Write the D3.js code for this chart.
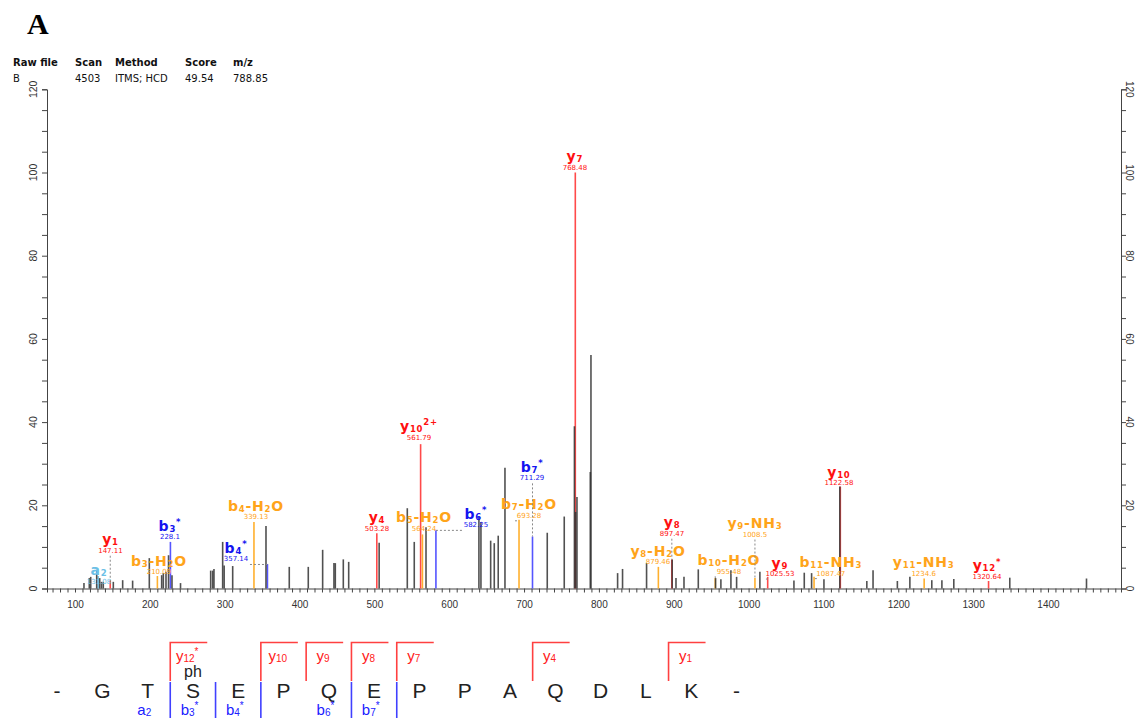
<!DOCTYPE html>
<html>
<head>
<meta charset="utf-8">
<script src="https://cdn.jsdelivr.net/npm/d3@7"></script>
<style>
  body { margin: 0; background: #fff; }
  svg { display: block; }
  .axis text { font-family: 'Liberation Sans', Arial, sans-serif; font-size: 10px; fill: #333; }
  .axis path, .axis line { stroke: #444; }
</style>
</head>
<body>
<div id="chart"></div>
<script>
// header table
var headerCols = ['Raw file', 'Scan', 'Method', 'Score', 'm/z']
var headerVals = ['B', '4503', 'ITMS; HCD', '49.54', '788.85']

// unassigned peaks (m/z, relative intensity %)
var peakMz = [112.0, 119.1, 121.0, 129.0, 133.0, 135.4, 137.8, 151.2, 163.7, 177.0,
  199.3, 215.8, 218.0, 221.6, 225.0, 229.6, 241.0, 281.3, 284.0, 285.7,
  297.3, 299.3, 310.7, 355.2, 386.3, 411.7, 430.9, 446.0, 447.8, 458.5,
  465.7, 506.4, 544.0, 553.3, 569.0, 639.7, 642.4, 655.4, 660.2, 665.5,
  674.5, 731.0, 753.7, 767.3, 768.9, 770.7, 788.5, 789.4, 825.0, 831.6,
  863.7, 897.9, 903.0, 913.7, 932.8, 955.9, 963.0, 976.4, 984.0, 1015.1,
  1060.6, 1074.4, 1084.2, 1100.7, 1121.9, 1158.0, 1166.3, 1198.8, 1215.5, 1244.8,
  1258.3, 1274.2, 1349.0, 1451.5]
var peakInt = [1.3, 2.5, 2.8, 4.4, 2.5, 1.6, 1.6, 1.6, 2.0, 1.9,
  7.3, 3.2, 3.7, 4.0, 8.0, 3.2, 1.3, 4.3, 4.3, 4.7,
  11.2, 5.5, 5.4, 15.0, 5.2, 5.2, 9.3, 6.1, 6.1, 7.0,
  6.4, 11.0, 19.3, 11.2, 14.7, 17.3, 16.0, 11.5, 10.9, 12.7,
  29.0, 13.4, 17.3, 39.0, 18.4, 22.0, 28.0, 56.1, 3.7, 4.7,
  6.1, 7.0, 2.5, 2.8, 4.6, 2.5, 2.2, 4.4, 2.8, 4.0,
  1.9, 3.8, 3.7, 2.2, 24.5, 1.8, 4.4, 1.8, 2.8, 2.0,
  2.0, 2.3, 2.6, 2.4]

// assigned fragment ions
var ionNames = ['a2', 'y1', 'b3-H2O', 'b3*', 'b4-H2O', 'b4*', 'y4', 'y10^2+', 'b5-H2O', 'b6*', 'b7-H2O',
  'b7*', 'y7', 'y8-H2O', 'y8', 'b10-H2O', 'y9-NH3', 'y9', 'b11-NH3', 'y10', 'y11-NH3', 'y12*']
var ionKind = ['a', 'y', 'loss', 'b', 'loss', 'b', 'y', 'y', 'loss', 'b', 'loss',
  'b', 'y', 'loss', 'y', 'loss', 'loss', 'y', 'loss', 'y', 'loss', 'y']
var ionMz = [131.08, 147.11, 210.09, 227.5, 339.13, 357.14, 503.28, 561.79, 564.24, 582.25, 693.28,
  711.29, 768.48, 879.46, 897.47, 955.48, 1008.5, 1025.53, 1087.47, 1122.58, 1234.6, 1320.64]
var ionValue = ['131.08', '147.11', '210.09', '228.1', '339.13', '357.14', '503.28', '561.79', '564.24', '582.25', '693.28',
  '711.29', '768.48', '879.46', '897.47', '955.48', '1008.5', '1025.53', '1087.47', '1122.58', '1234.6', '1320.64']
var ionInt = [3.0, 2.0, 3.0, 11.2, 16.0, 5.9, 13.3, 34.7, 13.0, 14.0, 16.5,
  12.5, 100, 5.2, 7.0, 2.5, 2.5, 2.8, 2.8, 24.5, 2.4, 1.8]
// where the software put each label (m/z, intensity)
var labelMz = [132.1, 147.4, 212.2, 226.9, 341.8, 315.1, 503.5, 559.6, 566.3, 635.7, 706.6,
  710.7, 768.0, 879.0, 897.7, 973.7, 1008.5, 1041.9, 1109.9, 1120.7, 1233.9, 1318.5]
var labelInt = [4.2, 11.6, 6.4, 14.9, 19.6, 9.5, 16.9, 38.8, 16.9, 17.7, 20.0,
  29.0, 103.7, 8.8, 15.7, 6.6, 15.5, 6.0, 6.1, 27.8, 6.1, 5.3]

// peptide sequence and fragment brackets
var residues = ['-', 'G', 'T', 'S', 'E', 'P', 'Q', 'E', 'P', 'P', 'A', 'Q', 'D', 'L', 'K', '-']
var yBracketNames = ['y12*', 'y10', 'y9', 'y8', 'y7', 'y4', 'y1']
var yBracketStart = [3, 5, 6, 7, 8, 11, 14]
var bBracketNames = ['a2', 'b3*', 'b4*', 'b6*', 'b7*']
var bBracketEnd = [2, 3, 4, 6, 7]
var modSite = 3
var modName = 'ph'

var lineColor = { y: '#ff4a4a', b: '#5555ff', loss: '#ffb02e', a: '#7cc8e8' }
var textColor = { y: '#ff1010', b: '#1414f0', loss: '#ffa41a', a: '#6cc0e6' }

var W = 1136
var H = 718

var svg = d3
  .select('#chart')
  .append('svg')
  .attr('width', W)
  .attr('height', H)

var xPositionScale = d3
  .scaleLinear()
  .domain([62.6, 1497.6])
  .range([47, 1121])

var yPositionScale = d3
  .scaleLinear()
  .domain([0, 120])
  .range([588.5, 89.3])

// panel letter + header
svg
  .append('text')
  .attr('x', 27)
  .attr('y', 34)
  .style('font-family', "'Liberation Serif', 'Times New Roman', serif")
  .style('font-weight', 'bold')
  .style('font-size', '30px')
  .text('A')

var headerX = [13, 75, 115, 185, 233]
headerCols.forEach((t, i) => {
  svg.append('text')
    .attr('x', headerX[i]).attr('y', 66)
    .style('font-family', "'DejaVu Sans', Verdana, sans-serif")
    .style('font-weight', 'bold').style('font-size', '10px').style('fill', '#111')
    .text(t)
  svg.append('text')
    .attr('x', headerX[i]).attr('y', 82)
    .style('font-family', "'DejaVu Sans', Verdana, sans-serif")
    .style('font-size', '10px').style('fill', '#111')
    .text(headerVals[i])
})

// axes
var yTicks = d3.range(0, 121, 5)
var leftAxis = d3.axisLeft(yPositionScale).tickValues(yTicks).tickSize(5).tickFormat('')
svg.append('g').attr('class', 'axis').attr('transform', 'translate(47,0)').call(leftAxis)
var rightAxis = d3.axisRight(yPositionScale).tickValues(yTicks).tickSize(5).tickFormat('')
svg.append('g').attr('class', 'axis').attr('transform', 'translate(1121,0)').call(rightAxis)

yTicks.filter(d => d % 20 === 0).forEach(d => {
  svg.append('text')
    .attr('transform', 'translate(33,' + yPositionScale(d) + ') rotate(-90)')
    .attr('text-anchor', 'middle').attr('dy', '0.35em')
    .style('font-family', "'Liberation Sans', Arial, sans-serif").style('font-size', '10.5px').style('fill', '#333')
    .text(d)
  svg.append('text')
    .attr('transform', 'translate(1129,' + yPositionScale(d) + ') rotate(90)')
    .attr('text-anchor', 'middle').attr('dy', '0.35em')
    .style('font-family', "'Liberation Sans', Arial, sans-serif").style('font-size', '10px').style('fill', '#333')
    .text(d)
})

var xAxis = d3
  .axisBottom(xPositionScale)
  .tickValues(d3.range(70, 1500, 10))
  .tickSize(4)
  .tickPadding(8)
  .tickFormat(d => (d % 100 === 0 ? d : ''))
svg
  .append('g')
  .attr('class', 'axis x-axis')
  .attr('transform', 'translate(0,' + yPositionScale(0) + ')')
  .call(xAxis)

// peaks
var peaks = peakMz.map((m, i) => ({ mz: m, int: peakInt[i] }))
var ions = ionNames.map((n, i) => ({
  name: n, kind: ionKind[i], mz: ionMz[i], int: ionInt[i], value: ionValue[i],
  lmz: labelMz[i], lint: labelInt[i]
}))

var peakG = svg.append('g')
peakG
  .selectAll('.ion-peak')
  .data(ions)
  .enter()
  .append('line')
  .attr('class', 'ion-peak')
  .attr('x1', d => xPositionScale(d.mz))
  .attr('x2', d => xPositionScale(d.mz))
  .attr('y1', yPositionScale(0))
  .attr('y2', d => yPositionScale(d.int))
  .attr('stroke', d => lineColor[d.kind])
  .attr('stroke-width', 1.6)

peakG
  .selectAll('.peak')
  .data(peaks)
  .enter()
  .append('line')
  .attr('class', 'peak')
  .attr('x1', d => xPositionScale(d.mz))
  .attr('x2', d => xPositionScale(d.mz))
  .attr('y1', yPositionScale(0))
  .attr('y2', d => yPositionScale(d.int))
  .attr('stroke', '#333')
  .attr('stroke-opacity', 0.85)
  .attr('stroke-width', 1.6)

// draw an ion name with small index numbers and raised marks
function ionText(sel, name, big, small) {
  var tokens = name.match(/\^[^\s]+|\d+|\*|[^\d\*\^]+/g)
  var off = 0
  tokens.forEach(tk => {
    var size = big
    var target = 0
    var txt = tk
    if (tk[0] === '^') { txt = tk.slice(1); size = small; target = -big * 0.45 }
    else if (/^\d+$/.test(tk)) { size = small; target = 1 }
    else if (tk === '*') { size = small; target = -big * 0.4 }
    sel.append('tspan')
      .attr('dy', target - off)
      .style('font-size', size + 'px')
      .text(txt)
    off = target
  })
}

var labelG = svg.append('g')
ions.forEach(d => {
  var lx = xPositionScale(d.lmz)
  var ly = yPositionScale(d.lint)
  var px = xPositionScale(d.mz)
  var py = yPositionScale(d.int)
  var c = textColor[d.kind]
  var t = labelG.append('text')
    .attr('x', lx).attr('y', ly + 4)
    .attr('text-anchor', 'middle')
    .style('font-family', "'DejaVu Sans', Verdana, sans-serif")
    .style('font-weight', 'bold')
    .style('letter-spacing', '0.8px')
    .style('fill', c)
  ionText(t, d.name, 14, 8.5)
  labelG.append('text')
    .attr('x', lx).attr('y', ly + 12.5)
    .attr('text-anchor', 'middle')
    .style('font-family', "'DejaVu Sans', Verdana, sans-serif")
    .style('font-size', '7px')
    .style('fill', c)
    .text(d.value)

  // dashed leader to the peak
  var ys = ly + 15.5
  var path = null
  if (Math.abs(lx - px) > 5) {
    var xs = lx > px ? lx - 14 : lx + 14
    path = 'M' + xs + ',' + ys + 'H' + px + (py > ys ? 'V' + py : '')
  } else if (py > ys + 3) {
    path = 'M' + px + ',' + ys + 'V' + py
  }
  if (path) {
    labelG.append('path')
      .attr('d', path)
      .attr('fill', 'none')
      .attr('stroke', '#888')
      .attr('stroke-width', 1)
      .attr('stroke-dasharray', '2,2')
  }
})

// sequence with fragment brackets
var seqX = d3.scaleLinear().domain([0, residues.length - 1]).range([57, 736.5])
var seqG = svg.append('g')
seqG.selectAll('.res')
  .data(residues)
  .enter()
  .append('text')
  .attr('class', 'res')
  .attr('x', (d, i) => seqX(i))
  .attr('y', 698)
  .attr('text-anchor', 'middle')
  .style('font-family', "'Liberation Sans', Arial, sans-serif")
  .style('font-size', '21px')
  .style('fill', '#222')
  .text(d => d)

seqG.append('text')
  .attr('x', seqX(modSite)).attr('y', 677)
  .attr('text-anchor', 'middle')
  .style('font-family', "'Liberation Sans', Arial, sans-serif")
  .style('font-size', '16px').style('fill', '#222')
  .text(modName)

yBracketNames.forEach((n, i) => {
  var bx = seqX(yBracketStart[i] - 0.5)
  seqG.append('path')
    .attr('d', 'M' + bx + ',681V642.5H' + (bx + 37))
    .attr('fill', 'none').attr('stroke', '#ff4040').attr('stroke-width', 1.6)
  var t = seqG.append('text')
    .attr('x', bx + 17).attr('y', 661)
    .attr('text-anchor', 'middle')
    .style('font-family', "'Liberation Sans', Arial, sans-serif")
    .style('fill', '#ff2020')
  ionText(t, n, 15, 10)
})

bBracketNames.forEach((n, i) => {
  var bx = seqX(bBracketEnd[i] + 0.5)
  seqG.append('line')
    .attr('x1', bx).attr('x2', bx).attr('y1', 682).attr('y2', 718)
    .attr('stroke', '#4040ff').attr('stroke-width', 1.6)
  var t = seqG.append('text')
    .attr('x', bx - 26).attr('y', 715)
    .attr('text-anchor', 'middle')
    .style('font-family', "'Liberation Sans', Arial, sans-serif")
    .style('fill', '#2020ff')
  ionText(t, n, 15, 10)
})
</script>
</body>
</html>
